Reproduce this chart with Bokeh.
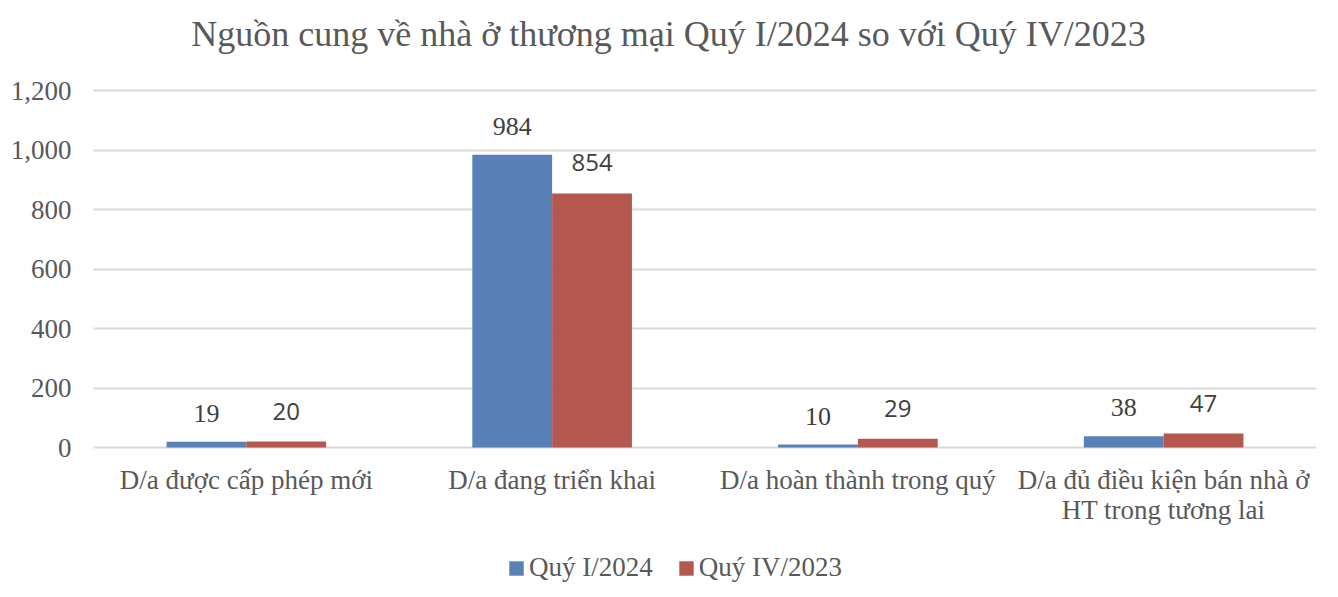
from bokeh.plotting import figure
from bokeh.models import ColumnDataSource, FactorRange, Range1d, Legend, LegendItem, NumeralTickFormatter, Label
from bokeh.transform import dodge
from bokeh.core.properties import value
from bokeh.embed import file_html
from bokeh.resources import INLINE

title_text = "Nguồn cung về nhà ở thương mại Quý I/2024 so với Quý IV/2023"
categories = ["D/a được cấp phép mới", "D/a đang triển khai", "D/a hoàn thành trong quý",
              "D/a đủ điều kiện bán nhà ở\nHT trong tương lai"]
q1_2024 = [19, 984, 10, 38]
q4_2023 = [20, 854, 29, 47]
series_names = ["Quý I/2024", "Quý IV/2023"]
y_ticks = [0, 200, 400, 600, 800, 1000, 1200]

BLUE = "#5A80B8"
RED = "#B3574F"
SERIF = "Liberation Serif"
GREY = "#595959"

# layout (pixels): plot area spans 0..1200 between these rows of the frame
FRAME_H = 585
FRAME_LEFT = 93
TOP_PX = 90      # row of the 1,200 gridline
ZERO_PX = 447    # row of the 0 gridline
k = (ZERO_PX - TOP_PX) / 1200.0
y_hi = 1200 + TOP_PX / k
y_lo = y_hi - FRAME_H / k

src = ColumnDataSource(dict(cat=categories, a=q1_2024, b=q4_2023,
                            a_txt=[str(v) for v in q1_2024], b_txt=[str(v) for v in q4_2023]))

p = figure(x_range=FactorRange(*categories), y_range=Range1d(y_lo, y_hi),
           frame_width=1223, frame_height=FRAME_H, output_backend="svg", toolbar_location=None,
           x_axis_location=None,
           min_border_left=FRAME_LEFT, min_border_right=14, min_border_top=0, min_border_bottom=0)

p.outline_line_color = None
bw = 0.261
r1 = p.vbar(x=dodge("cat", -bw / 2, range=p.x_range), top="a", width=bw, source=src, fill_color=BLUE, line_color=None)
r2 = p.vbar(x=dodge("cat", bw / 2, range=p.x_range), top="b", width=bw, source=src, fill_color=RED, line_color=None)

p.text(x=dodge("cat", -bw / 2, range=p.x_range), y="a", text="a_txt", source=src,
       text_align="center", text_baseline="bottom", y_offset=-20,
       text_font=value(SERIF), text_font_size="26px", text_color="#404040")
p.text(x=dodge("cat", bw / 2, range=p.x_range), y="b", text="b_txt", source=src,
       text_align="center", text_baseline="bottom", y_offset=-22,
       text_font=value("Open Sans"), text_font_size="24px", text_color="#404040")

# category labels under the zero line
p.text(x="cat", y=0, text="cat", source=src, text_align="center", text_baseline="top",
       y_offset=17, text_font=value(SERIF), text_font_size="27px", text_color=GREY,
       text_line_height=1.0)

p.yaxis.ticker = y_ticks
p.yaxis.formatter = NumeralTickFormatter(format="0,0")
p.yaxis.axis_line_color = None
p.yaxis.major_tick_line_color = None
p.yaxis.minor_tick_line_color = None
p.yaxis.major_label_text_font = SERIF
p.yaxis.major_label_text_font_size = "27px"
p.yaxis.major_label_text_color = GREY
p.yaxis.major_label_standoff = 16

p.xgrid.grid_line_color = None
p.ygrid.ticker = y_ticks
p.ygrid.grid_line_color = "#D9D9D9"
p.ygrid.grid_line_width = 2

title = Label(x=668 - FRAME_LEFT, y=FRAME_H - 33, x_units="screen", y_units="screen", text=title_text,
              text_align="center", text_baseline="middle", text_font=SERIF,
              text_font_size="36px", text_color=GREY)
p.add_layout(title)

legend = Legend(items=[LegendItem(label=series_names[0], renderers=[r1]),
                       LegendItem(label=series_names[1], renderers=[r2])],
                orientation="horizontal", location=(507 - FRAME_LEFT, 2),
                glyph_width=18, glyph_height=18, label_standoff=4, spacing=24,
                label_text_font=SERIF, label_text_font_size="27px", label_text_color=GREY,
                border_line_color=None, background_fill_alpha=0, margin=0, padding=0)
p.add_layout(legend, "center")

open("out.html", "w").write(file_html(p, INLINE))
